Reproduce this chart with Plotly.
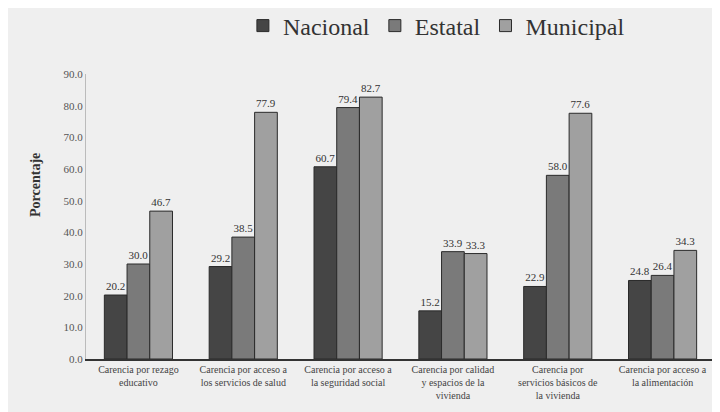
import plotly.graph_objects as go

categories = [
    "Carencia por rezago<br>educativo",
    "Carencia por acceso a<br>los servicios de salud",
    "Carencia por acceso a<br>la seguridad social",
    "Carencia por calidad<br>y espacios de la<br>vivienda",
    "Carencia por<br>servicios básicos de<br>la vivienda",
    "Carencia por acceso a<br>la alimentación",
]
nacional = [20.2, 29.2, 60.7, 15.2, 22.9, 24.8]
estatal = [30.0, 38.5, 79.4, 33.9, 58.0, 26.4]
municipal = [46.7, 77.9, 82.7, 33.3, 77.6, 34.3]
series_names = ["Nacional", "Estatal", "Municipal"]
series_colors = ["#454545", "#7a7a7a", "#a0a0a0"]
y_ticks = [0, 10, 20, 30, 40, 50, 60, 70, 80, 90]

FONT = "Times New Roman, Liberation Serif, serif"

fig = go.Figure()
for name, vals, col in zip(series_names, [nacional, estatal, municipal], series_colors):
    fig.add_trace(go.Bar(
        name=name, x=categories, y=vals,
        marker=dict(color=col, line=dict(color="#2a2a2a", width=1)),
        text=[f"{v:.1f}" for v in vals], textposition="outside",
        textfont=dict(family=FONT, size=11, color="#333333"),
        cliponaxis=False,
    ))

fig.update_layout(
    width=720, height=412,
    barmode="group", bargap=0.35, bargroupgap=0,
    paper_bgcolor="#efefef", plot_bgcolor="#efefef",
    margin=dict(l=78, r=13, t=66, b=61),
    font=dict(family=FONT, color="#333333"),
    legend=dict(
        orientation="h", x=0.595, xanchor="center", xref="container",
        y=1 - 18 / 412, yanchor="middle", yref="container",
        font=dict(family=FONT, size=24, color="#333333"),
        itemwidth=30, traceorder="normal", bgcolor="rgba(0,0,0,0)",
    ),
    xaxis=dict(
        showline=True, linecolor="#333333", linewidth=1.5,
        tickfont=dict(family=FONT, size=10, color="#444444"),
        ticks="", showgrid=False,
    ),
    yaxis=dict(
        range=[0, 90], tickvals=y_ticks,
        ticktext=[f"{t:.1f}" for t in y_ticks],
        showline=True, linecolor="#bbbbbb", linewidth=1,
        showgrid=False, zeroline=False, ticks="", ticklen=0,
        tickfont=dict(family=FONT, size=11, color="#555555"),
    ),
    annotations=[dict(
        text="<b>Porcentaje</b>", textangle=-90,
        x=(27 - 78) / (720 - 78 - 13), y=(351 - 177) / (351 - 66),
        xref="paper", yref="paper", showarrow=False,
        xanchor="center", yanchor="middle",
        font=dict(family=FONT, size=14, color="#333333"),
    )],
)

fig.write_html("out.html")
